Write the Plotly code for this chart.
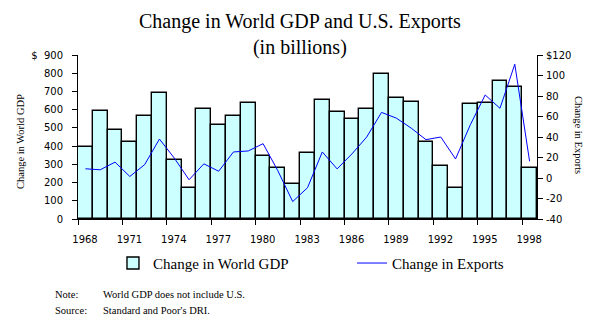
import plotly.graph_objects as go

years = list(range(1968, 1999))
gdp_change = [397, 591, 487, 421, 564, 690, 322, 168, 602, 516, 565, 635, 344, 278, 190,
              362, 651, 586, 547, 602, 794, 662, 640, 422, 289, 168, 631, 637, 757, 723, 280]
exports_change = [9, 8, 15.5, 1.5, 13, 38, 19.5, -1.7, 13.8, 6.6, 25.4, 26.4, 33.5, 7, -23,
                  -9.5, 25.4, 8.9, 23.5, 40, 64, 58.4, 48.7, 37.4, 40, 18.6, 52, 81, 68, 111, 16.3]

x_tick_years = list(range(1968, 1999, 3))
left_tick_vals = list(range(0, 901, 100))
left_tick_text = ["0", "100", "200", "300", "400", "500", "600", "700", "800", "$\u00a0\u00a0900"]
right_tick_vals = list(range(-40, 121, 20))
right_tick_text = ["-40", "-20", "0", "20", "40", "60", "80", "100", "$120"]

serif = "Liberation Serif, Times New Roman, serif"
sans = "DejaVu Sans, Arial, sans-serif"

fig = go.Figure()
fig.add_trace(go.Bar(
    x=years, y=gdp_change, name="Change in World GDP",
    marker=dict(color="#CCFFFF", line=dict(color="black", width=1.4)),
    width=1.0, yaxis="y", legend="legend",
))
fig.add_trace(go.Scatter(
    x=years, y=exports_change, name="Change in Exports", mode="lines",
    line=dict(color="#0000FF", width=1), yaxis="y2", legend="legend2",
))

legend_common = dict(
    orientation="h", xanchor="left", y=-0.27, yanchor="middle",
    font=dict(family=serif, size=15, color="black"),
    bgcolor="rgba(0,0,0,0)", borderwidth=0,
)

fig.update_layout(
    width=595, height=329,
    margin=dict(l=78, r=58, t=55, b=110),
    paper_bgcolor="white", plot_bgcolor="white",
    bargap=0,
    showlegend=True,
    title=dict(
        text="Change in World GDP and U.S. Exports<br>(in billions)",
        font=dict(family=serif, size=20, color="black"),
        x=0.504, xanchor="center", xref="container",
        y=0.915, yanchor="top", yref="container",
    ),
    xaxis=dict(
        range=[1967.5, 1998.5],
        tickvals=[y - 0.5 for y in x_tick_years],
        ticktext=[str(y) for y in x_tick_years],
        ticks="outside", ticklen=5, tickcolor="black", tickwidth=1,
        ticklabelshift=7, ticklabelstandoff=6,
        showline=True, linecolor="black", linewidth=1,
        showgrid=False, zeroline=False,
        tickfont=dict(family=sans, size=10, color="black"),
    ),
    yaxis=dict(
        range=[0, 900],
        tickvals=left_tick_vals, ticktext=left_tick_text,
        ticks="outside", ticklen=5, tickcolor="black", tickwidth=1,
        ticklabelstandoff=7,
        showline=True, linecolor="black", linewidth=1,
        showgrid=False, zeroline=False,
        tickfont=dict(family=sans, size=10, color="black"),
    ),
    yaxis2=dict(
        range=[-40, 120], overlaying="y", side="right",
        tickvals=right_tick_vals, ticktext=right_tick_text,
        ticks="outside", ticklen=5, tickcolor="black", tickwidth=1,
        ticklabelstandoff=1,
        showline=True, linecolor="black", linewidth=1,
        showgrid=False, zeroline=False,
        tickfont=dict(family=sans, size=10, color="black"),
    ),
    legend=dict(x=0.0762, **legend_common),
    legend2=dict(x=0.597, **legend_common),
    annotations=[
        dict(text="Change in World GDP", textangle=-90, xref="paper", yref="paper",
             x=0, xshift=-58, y=0.5, yshift=-5, xanchor="center", yanchor="middle",
             showarrow=False, font=dict(family=serif, size=10.5, color="black")),
        dict(text="Change in Exports", textangle=90, xref="paper", yref="paper",
             x=1, xshift=42, y=0.5, yshift=2, xanchor="center", yanchor="middle",
             showarrow=False, font=dict(family=serif, size=10.5, color="black")),
        dict(text="Note:", xref="paper", yref="paper", x=-0.0545, y=-0.463,
             xanchor="left", yanchor="middle", showarrow=False,
             font=dict(family=serif, size=10.5, color="black")),
        dict(text="World GDP does not include U.S.", xref="paper", yref="paper", x=0.0501, y=-0.463,
             xanchor="left", yanchor="middle", showarrow=False,
             font=dict(family=serif, size=10.5, color="black")),
        dict(text="Source:", xref="paper", yref="paper", x=-0.0545, y=-0.555,
             xanchor="left", yanchor="middle", showarrow=False,
             font=dict(family=serif, size=10.5, color="black")),
        dict(text="Standard and Poor's DRI.", xref="paper", yref="paper", x=0.0501, y=-0.555,
             xanchor="left", yanchor="middle", showarrow=False,
             font=dict(family=serif, size=10.5, color="black")),
    ],
)

fig.write_html("out.html")
